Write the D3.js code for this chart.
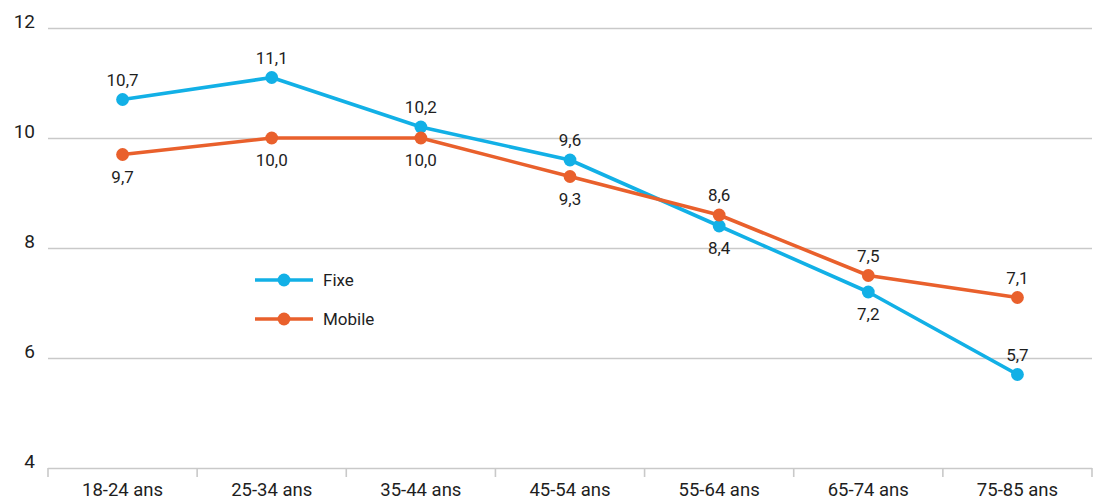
<!DOCTYPE html>
<html>
<head>
<meta charset="utf-8">
<script src="https://cdn.jsdelivr.net/npm/d3@7"></script>
<style>
  html, body { margin: 0; padding: 0; background: #fff; }
  svg text { font-family: Roboto, "Noto Sans", sans-serif; fill: #1e1e1e; }
</style>
</head>
<body>
<svg id="chart" width="1098" height="501"></svg>
<script>
// Age groups and average values per access type
const categories = ["18-24 ans", "25-34 ans", "35-44 ans", "45-54 ans", "55-64 ans", "65-74 ans", "75-85 ans"];
const fixeValues = [10.7, 11.1, 10.2, 9.6, 8.4, 7.2, 5.7];
const mobileValues = [9.7, 10.0, 10.0, 9.3, 8.6, 7.5, 7.1];
const yTicks = [4, 6, 8, 10, 12];
// label placement per point: "above" or "below"
const fixeLabelPos = ["above", "above", "above", "above", "below", "below", "above"];
const mobileLabelPos = ["below", "below", "below", "below", "above", "above", "above"];

const series = [
  { name: "Fixe", values: fixeValues, pos: fixeLabelPos, color: "#12b0e6" },
  { name: "Mobile", values: mobileValues, pos: mobileLabelPos, color: "#e9602c" }
];

const svg = d3.select("#chart");
const plotLeft = 48, plotRight = 1092, plotTop = 28, plotBottom = 468;

const x = d3.scaleBand().domain(categories).range([plotLeft, plotRight]).padding(0);
const y = d3.scaleLinear().domain([4, 12]).range([plotBottom, plotTop]);
const cx = c => x(c) + x.bandwidth() / 2;

const fmt = v => d3.format(".1f")(v).replace(".", ",");

// horizontal gridlines + y labels
const yAxis = svg.append("g")
  .attr("transform", `translate(${plotLeft},0)`)
  .call(d3.axisLeft(y).tickValues(yTicks).tickSize(-(plotRight - plotLeft)).tickPadding(13).tickFormat(d3.format("d")));
yAxis.select(".domain").remove();
yAxis.selectAll(".tick line").attr("stroke", "#c9c9c9").attr("stroke-width", 1.6);
yAxis.selectAll(".tick text")
  .attr("font-size", 19)
  .attr("dy", "-0.05em");

// x axis labels
const xAxis = svg.append("g")
  .attr("transform", `translate(0,${plotBottom})`)
  .call(d3.axisBottom(x).tickSize(0).tickPadding(15));
xAxis.select(".domain").remove();
xAxis.selectAll(".tick text").attr("font-size", 18.5);

// category separators below the baseline
const seps = categories.map(c => x(c)).concat([plotRight]);
svg.append("g").selectAll("line").data(seps).join("line")
  .attr("x1", d => d).attr("x2", d => d)
  .attr("y1", plotBottom).attr("y2", plotBottom + 9)
  .attr("stroke", "#c9c9c9").attr("stroke-width", 1.6);

const line = d3.line().x((d, i) => cx(categories[i])).y(d => y(d));

series.forEach(s => {
  const g = svg.append("g");
  g.append("path")
    .datum(s.values)
    .attr("d", line)
    .attr("fill", "none")
    .attr("stroke", s.color)
    .attr("stroke-width", 3.6)
    .attr("stroke-linejoin", "round");
  g.selectAll("circle").data(s.values).join("circle")
    .attr("cx", (d, i) => cx(categories[i]))
    .attr("cy", d => y(d))
    .attr("r", 6.4)
    .attr("fill", s.color);
  g.selectAll("text").data(s.values).join("text")
    .attr("x", (d, i) => cx(categories[i]))
    .attr("y", (d, i) => s.pos[i] === "above" ? y(d) - 14 : y(d) + 28)
    .attr("text-anchor", "middle")
    .attr("font-size", 17)
    .text(d => fmt(d));
});

// legend
const legend = svg.append("g");
series.forEach((s, i) => {
  const ly = 280 + i * 39;
  legend.append("line")
    .attr("x1", 255).attr("x2", 313).attr("y1", ly).attr("y2", ly)
    .attr("stroke", s.color).attr("stroke-width", 3.6);
  legend.append("circle").attr("cx", 284).attr("cy", ly).attr("r", 6.4).attr("fill", s.color);
  legend.append("text")
    .attr("x", 323).attr("y", ly).attr("dy", "0.35em")
    .attr("font-size", 17)
    .text(s.name);
});
</script>
</body>
</html>
